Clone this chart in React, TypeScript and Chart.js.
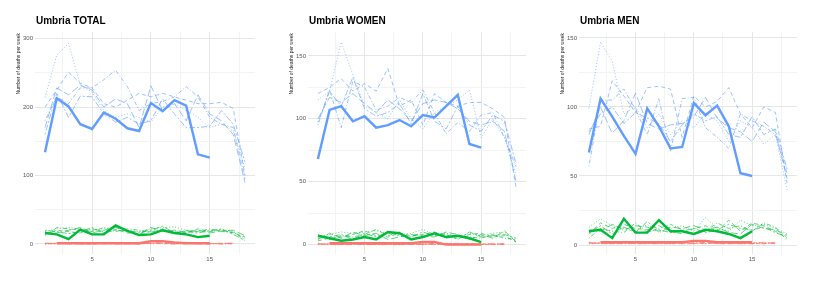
import React, { useEffect, useRef } from 'react';
import { Chart, registerables } from 'chart.js';

Chart.register(...registerables);

// ---------- data ----------
const weeks = [1, 2, 3, 4, 5, 6, 7, 8, 9, 10, 11, 12, 13, 14, 15, 16, 17, 18];
const xGridTicks = [2.5, 5, 7.5, 10, 12.5, 15, 17.5];
const xTickLabels = [5, 10, 15];

const panelTitles = ['Umbria TOTAL', 'Umbria WOMEN', 'Umbria MEN'];
const yAxisTitle = 'Number of deaths per week';

const totalYTicks = [0, 50, 100, 150, 200, 250, 300];
const totalYLabels = [0, 100, 200, 300];
const sexYTicks = [0, 25, 50, 75, 100, 125, 150];
const sexYLabels = [0, 50, 100, 150];

// TOTAL
const totalBlueCurrent = [134, 213, 201, 175, 168, 192, 183, 169, 165, 206, 194, 210, 202, 131, 126];
const totalBluePast = [
  [214, 276, 293, 232, 222, 195, 185, 190, 185, 178, 200, 205, 195, 185, 170, 175, 165, 110],
  [200, 225, 251, 235, 228, 205, 200, 210, 220, 215, 220, 215, 210, 205, 205, 207, 198, 100],
  [180, 215, 205, 228, 228, 240, 254, 230, 195, 205, 208, 215, 230, 215, 185, 175, 170, 95],
  [170, 228, 218, 232, 225, 200, 212, 205, 170, 231, 195, 205, 180, 218, 190, 180, 160, 90],
  [160, 220, 185, 216, 215, 190, 178, 185, 175, 180, 212, 190, 170, 170, 172, 195, 175, 120],
];
const totalGreenCurrent = [16, 14, 7, 21, 14, 14, 27, 19, 13, 14, 20, 16, 14, 10, 12];
const totalGreenPast = [
  [18, 22, 24, 22, 20, 22, 25, 20, 18, 22, 24, 25, 20, 18, 20, 21, 18, 8],
  [14, 20, 18, 16, 22, 18, 21, 16, 15, 18, 20, 18, 16, 22, 18, 20, 16, 10],
  [12, 24, 22, 20, 18, 24, 18, 22, 20, 17, 22, 15, 20, 18, 22, 18, 17, 6],
  [16, 16, 20, 24, 16, 20, 24, 18, 14, 24, 18, 20, 17, 20, 16, 19, 20, 12],
  [20, 18, 15, 18, 24, 16, 20, 19, 17, 20, 26, 16, 18, 16, 19, 22, 14, 5],
];
const totalRedCurrent = [null, 1, 1, 1, 1, 1, 1, 1, 1, 4, 4, 2, 1, 1, 1];
const totalRedPast = [
  [0, 1, 0, 1, 1, 0, 1, 0, 1, 0, 1, 1, 0, 1, 0, 1, 0, null],
  [1, 0, 1, 0, 0, 1, 0, 1, 0, 1, 0, 0, 1, 0, 1, 0, 1, null],
  [0, 0, 1, 1, 0, 0, 1, 1, 0, 2, 1, 0, 0, 1, 1, 0, 0, null],
  [1, 1, 0, 0, 1, 1, 0, 0, 1, 1, 2, 1, 1, 0, 0, 1, 1, null],
  [0, 1, 1, 0, 0, 1, 1, 0, 0, 1, 1, 0, 1, 1, 0, 0, 1, null],
];

// WOMEN
const womenBlueCurrent = [68, 107, 110, 98, 102, 93, 95, 99, 94, 103, 101, 110, 119, 80, 77];
const womenBluePast = [
  [115, 122, 161, 135, 110, 105, 100, 115, 100, 92, 105, 110, 115, 123, 85, 100, 85, 55],
  [120, 125, 132, 122, 128, 122, 140, 110, 115, 95, 120, 113, 110, 113, 113, 108, 101, 45],
  [95, 123, 93, 130, 125, 107, 110, 117, 113, 123, 105, 88, 97, 90, 103, 105, 85, 62],
  [100, 117, 113, 120, 112, 105, 115, 108, 98, 112, 115, 113, 108, 98, 95, 98, 90, 50],
  [97, 122, 110, 133, 108, 102, 105, 112, 96, 120, 98, 92, 110, 95, 90, 103, 98, 64],
];
const womenGreenCurrent = [7, 5, 3, 4, 6, 4, 10, 9, 4, 6, 9, 6, 7, 5, 2];
const womenGreenPast = [
  [6, 8, 10, 9, 10, 11, 9, 8, 9, 12, 8, 9, 6, 9, 7, 9, 10, 3],
  [3, 5, 6, 8, 11, 7, 6, 9, 7, 8, 10, 7, 5, 8, 9, 6, 7, 2],
  [8, 4, 7, 6, 8, 12, 7, 10, 4, 6, 9, 5, 7, 6, 5, 8, 5, 4],
  [4, 9, 5, 10, 7, 9, 4, 6, 8, 7, 6, 10, 8, 4, 8, 5, 11, 2],
  [5, 6, 8, 4, 9, 6, 10, 7, 6, 10, 7, 8, 4, 10, 6, 7, 8, 5],
];
const womenRedCurrent = [null, 1, 1, 1, 1, 1, 1, 1, 1, 2, 2, 0, 0, 0, 0];
const womenRedPast = [
  [0, 1, 0, 0, 1, 0, 1, 0, 0, 1, 0, 0, 1, 0, 0, 1, 0, null],
  [1, 0, 0, 1, 0, 0, 0, 1, 0, 0, 1, 0, 0, 1, 0, 0, 1, null],
  [0, 0, 1, 0, 0, 1, 0, 0, 1, 1, 0, 1, 0, 0, 1, 0, 0, null],
  [0, 1, 0, 1, 0, 0, 1, 0, 0, 0, 1, 0, 0, 0, 0, 1, 0, null],
  [1, 0, 0, 0, 1, 0, 0, 0, 1, 0, 0, 1, 1, 0, 0, 0, 1, null],
];

// MEN
const menBlueCurrent = [67, 106, 93, 79, 66, 99, 86, 70, 71, 103, 94, 101, 86, 52, 50];
const menBluePast = [
  [99, 147, 133, 95, 100, 85, 95, 80, 90, 85, 95, 90, 75, 90, 85, 73, 80, 40],
  [84, 86, 119, 108, 96, 114, 115, 113, 78, 108, 100, 104, 114, 95, 85, 100, 96, 45],
  [57, 105, 105, 113, 98, 80, 106, 68, 106, 107, 85, 78, 70, 95, 90, 86, 80, 52],
  [80, 100, 81, 90, 110, 88, 84, 87, 88, 93, 107, 92, 85, 82, 75, 89, 82, 48],
  [82, 95, 100, 88, 96, 92, 88, 75, 87, 95, 90, 93, 80, 78, 93, 80, 84, 55],
];
const menGreenCurrent = [10, 11, 5, 19, 9, 9, 18, 10, 10, 8, 11, 10, 8, 5, 10];
const menGreenPast = [
  [13, 19, 14, 12, 10, 15, 9, 12, 14, 10, 20, 12, 10, 18, 14, 15, 12, 8],
  [8, 16, 12, 15, 12, 11, 14, 10, 8, 12, 14, 10, 18, 10, 16, 14, 10, 5],
  [5, 12, 10, 9, 16, 9, 12, 15, 11, 8, 10, 16, 12, 14, 10, 16, 13, 3],
  [11, 10, 15, 11, 14, 13, 10, 13, 12, 14, 11, 13, 9, 8, 15, 12, 11, 7],
  [9, 14, 8, 13, 9, 17, 11, 9, 10, 12, 9, 11, 15, 12, 11, 13, 9, 6],
];
const menRedCurrent = [null, 2, 2, 2, 2, 2, 2, 2, 2, 3, 3, 2, 2, 2, 2];
const menRedPast = [
  [1, 2, 1, 1, 2, 1, 2, 1, 1, 2, 1, 1, 2, 1, 1, 2, 1, null],
  [2, 1, 1, 2, 1, 1, 1, 2, 1, 1, 2, 1, 1, 2, 1, 1, 2, null],
  [1, 1, 2, 1, 1, 2, 1, 1, 2, 2, 1, 2, 1, 1, 2, 1, 1, null],
  [1, 2, 1, 2, 1, 1, 2, 1, 1, 1, 2, 1, 1, 1, 1, 2, 1, null],
  [2, 1, 1, 1, 2, 1, 1, 1, 2, 1, 1, 2, 2, 1, 1, 1, 2, null],
];

// ---------- styling / layout ----------
const BLUE = '#619CFF';
const GREEN = '#00BA38';
const RED = '#F8766D';
const FONT = '"Liberation Sans", Arial, Helvetica, sans-serif';
const DASHES = [[1, 2], [4, 3], [1, 2, 4, 2], [7, 3], [2, 2, 6, 2]];

function withAlpha(hex: string, a: number) {
  const r = parseInt(hex.slice(1, 3), 16);
  const g = parseInt(hex.slice(3, 5), 16);
  const b = parseInt(hex.slice(5, 7), 16);
  return `rgba(${r},${g},${b},${a})`;
}

function toPoints(values: (number | null)[]) {
  return values
    .map((v, i) => ({ x: weeks[i], y: v }))
    .filter((p) => p.y !== null && p.y !== undefined);
}

const panelSpecs = [
  {
    title: panelTitles[0], left: 0, plotLeft: 35, plotRight: 255, yMin: -14.75, yMax: 309.75,
    yTicks: totalYTicks, yLabels: totalYLabels,
    blue: totalBlueCurrent, bluePast: totalBluePast, green: totalGreenCurrent, greenPast: totalGreenPast,
    red: totalRedCurrent, redPast: totalRedPast,
  },
  {
    title: panelTitles[1], left: 271, plotLeft: 308, plotRight: 526, yMin: -7.5, yMax: 169,
    yTicks: sexYTicks, yLabels: sexYLabels,
    blue: womenBlueCurrent, bluePast: womenBluePast, green: womenGreenCurrent, greenPast: womenGreenPast,
    red: womenRedCurrent, redPast: womenRedPast,
  },
  {
    title: panelTitles[2], left: 543, plotLeft: 579, plotRight: 797, yMin: -6.5, yMax: 154.3,
    yTicks: sexYTicks, yLabels: sexYLabels,
    blue: menBlueCurrent, bluePast: menBluePast, green: menGreenCurrent, greenPast: menGreenPast,
    red: menRedCurrent, redPast: menRedPast,
  },
];

const PANEL_W = 271;
const PANEL_H = 285;

const textPlugin = {
  id: 'panelText',
  afterDraw(chart: any, _args: any, opts: any) {
    const { ctx, chartArea } = chart;
    ctx.save();
    ctx.fillStyle = '#000';
    ctx.font = `bold 10px ${FONT}`;
    ctx.textAlign = 'left';
    ctx.textBaseline = 'alphabetic';
    ctx.fillText(opts.title, chartArea.left + 1, 24);
    ctx.translate(chartArea.left - 16, chartArea.top + 1);
    ctx.rotate(-Math.PI / 2);
    ctx.font = `5px ${FONT}`;
    ctx.fillStyle = '#222';
    ctx.textAlign = 'right';
    ctx.textBaseline = 'middle';
    ctx.fillText(yAxisTitle, 0, 0);
    ctx.restore();
  },
};

function Panel({ spec }: { spec: any }) {
  const ref = useRef<HTMLCanvasElement>(null);
  useEffect(() => {
    if (!ref.current) return;
    const thick = (data: any[], color: string) => ({
      data: toPoints(data), borderColor: color, borderWidth: 2.4, pointRadius: 0, tension: 0, fill: false,
    });
    const thin = (rows: any[][], color: string) =>
      rows.map((row, i) => ({
        data: toPoints(row), borderColor: withAlpha(color, 0.7), borderWidth: 0.9, borderDash: DASHES[i % DASHES.length],
        pointRadius: 0, tension: 0, fill: false,
      }));
    const datasets = [
      thick(spec.blue, BLUE),
      thick(spec.green, GREEN),
      thick(spec.red, RED),
      ...thin(spec.bluePast, BLUE),
      ...thin(spec.greenPast, GREEN),
      ...thin(spec.redPast, RED),
    ];
    const majorX = (v: number) => xTickLabels.includes(v);
    const majorY = (v: number) => spec.yLabels.includes(v);
    const chart = new Chart(ref.current, {
      type: 'line',
      data: { datasets },
      plugins: [textPlugin],
      options: {
        animation: false,
        responsive: false,
        devicePixelRatio: 1,
        layout: {
          padding: { top: 32, bottom: 17, left: 0, right: spec.left + PANEL_W - spec.plotRight },
        },
        plugins: {
          legend: { display: false },
          tooltip: { enabled: false },
          panelText: { title: spec.title },
        } as any,
        scales: {
          x: {
            type: 'linear',
            min: 0.15,
            max: 18.85,
            afterBuildTicks: (s: any) => { s.ticks = xGridTicks.map((v) => ({ value: v })); },
            afterFit: (s: any) => { s.height = 14; },
            border: { display: false },
            grid: {
              drawTicks: false,
              color: (c: any) => (majorX(c.tick?.value) ? '#e6e6e6' : '#f3f3f3'),
              lineWidth: 1,
            },
            ticks: {
              autoSkip: false,
              maxRotation: 0,
              padding: 2,
              color: '#555',
              font: { family: FONT, size: 6 },
              callback: (v: any) => (majorX(Number(v)) ? String(v) : ''),
            },
          },
          y: {
            type: 'linear',
            min: spec.yMin,
            max: spec.yMax,
            afterBuildTicks: (s: any) => { s.ticks = spec.yTicks.map((v: number) => ({ value: v })); },
            afterFit: (s: any) => { s.width = spec.plotLeft - spec.left; },
            border: { display: false },
            grid: {
              drawTicks: false,
              color: (c: any) => (majorY(c.tick?.value) ? '#e6e6e6' : '#f3f3f3'),
              lineWidth: 1,
            },
            ticks: {
              autoSkip: false,
              padding: 2,
              color: '#555',
              font: { family: FONT, size: 6 },
              callback: (v: any) => (majorY(Number(v)) ? String(v) : ''),
            },
          },
        },
      } as any,
    });
    return () => chart.destroy();
  }, [spec]);
  return (
    <canvas
      ref={ref}
      width={PANEL_W}
      height={PANEL_H}
      style={{ position: 'absolute', left: spec.left, top: 0, width: PANEL_W, height: PANEL_H }}
    />
  );
}

export default function App() {
  return (
    <div style={{ position: 'fixed', left: 0, top: 0, width: 814, height: 285, background: '#fff' }}>
      {panelSpecs.map((s) => (
        <Panel key={s.title} spec={s} />
      ))}
    </div>
  );
}
